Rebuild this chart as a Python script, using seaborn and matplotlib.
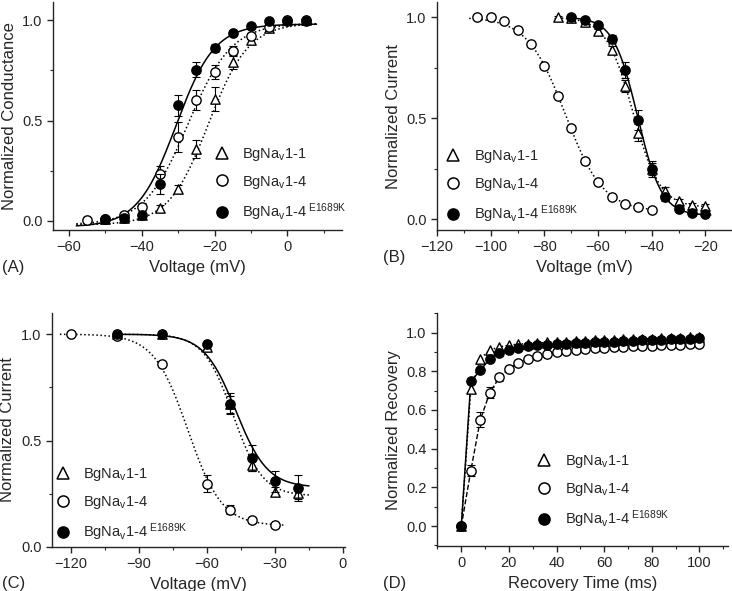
import numpy as np
import matplotlib
matplotlib.use("Agg")
import matplotlib.pyplot as plt
import seaborn as sns
from matplotlib.lines import Line2D
from matplotlib.ticker import MultipleLocator

# (A) activation
a_v_11 = [-50, -45, -40, -35, -30, -25, -20, -15, -10, -5, 0, 5]
a_g_11 = [0.01, 0.015, 0.03, 0.066, 0.16, 0.36, 0.605, 0.79, 0.90, 0.96, 1.0, 1.0]
a_e_11 = [0.01, 0.01, 0.01, 0.015, 0.02, 0.045, 0.06, 0.035, 0.02, 0.01, 0.01, 0.01]
a_v_14 = [-55, -50, -45, -40, -35, -30, -25, -20, -15, -10, -5, 0, 5]
a_g_14 = [0.007, 0.01, 0.028, 0.07, 0.233, 0.42, 0.60, 0.74, 0.845, 0.92, 0.967, 1.0, 1.0]
a_e_14 = [0.015, 0.01, 0.015, 0.02, 0.04, 0.075, 0.05, 0.035, 0.025, 0.015, 0.01, 0.01, 0.01]
a_v_ek = [-50, -45, -40, -35, -30, -25, -20, -15, -10, -5, 0, 5]
a_g_ek = [0.012, 0.017, 0.03, 0.186, 0.575, 0.754, 0.86, 0.934, 0.97, 0.993, 0.997, 0.997]
a_e_ek = [0.01, 0.01, 0.01, 0.05, 0.05, 0.035, 0.02, 0.015, 0.01, 0.01, 0.01, 0.01]
# Boltzmann fit parameters: v_half, slope, bottom, top
a_fit_11 = (-21.7, 5.5, -0.02, 0.985)
a_fit_14 = (-27.3, 6.0, -0.02, 0.985)
a_fit_ek = (-30.6, 5.3, -0.03, 0.98)

# (B) steady-state inactivation
b_v_11 = [-75, -70, -65, -60, -55, -50, -45, -40, -35, -30, -25, -20]
b_i_11 = [1.0, 0.995, 0.975, 0.93, 0.84, 0.66, 0.43, 0.25, 0.14, 0.09, 0.07, 0.065]
b_e_11 = [0.005, 0.005, 0.01, 0.01, 0.02, 0.03, 0.04, 0.03, 0.02, 0.01, 0.01, 0.01]
b_v_14 = [-105, -100, -95, -90, -85, -80, -75, -70, -65, -60, -55, -50, -45, -40]
b_i_14 = [1.0, 1.0, 0.98, 0.935, 0.868, 0.76, 0.61, 0.45, 0.29, 0.185, 0.113, 0.078, 0.06, 0.049]
b_e_14 = [0.005, 0.005, 0.01, 0.01, 0.01, 0.01, 0.01, 0.01, 0.01, 0.01, 0.01, 0.01, 0.01, 0.01]
b_v_ek = [-70, -65, -60, -55, -50, -45, -40, -35, -30, -25, -20]
b_i_ek = [1.0, 0.985, 0.96, 0.89, 0.74, 0.49, 0.25, 0.11, 0.05, 0.03, 0.025]
b_e_ek = [0.005, 0.01, 0.01, 0.02, 0.04, 0.05, 0.04, 0.02, 0.01, 0.01, 0.01]
b_fit_11 = (-47.0, 5.0, 0.06, 1.0)
b_fit_14 = (-72.2, 7.07, 0.04, 1.0)
b_fit_ek = (-45.3, 4.5, 0.02, 1.0)

# (C) slow inactivation
c_v_11 = [-100, -80, -60, -50, -40, -30, -20]
c_i_11 = [1.0, 1.0, 0.94, 0.67, 0.385, 0.26, 0.255]
c_e_11 = [0.01, 0.01, 0.01, 0.04, 0.03, 0.02, 0.03]
c_v_14 = [-120, -100, -80, -60, -50, -40, -30]
c_i_14 = [1.0, 0.99, 0.86, 0.297, 0.175, 0.128, 0.103]
c_e_14 = [0.005, 0.01, 0.01, 0.04, 0.02, 0.015, 0.01]
c_v_ek = [-100, -80, -60, -50, -40, -30, -20]
c_i_ek = [1.0, 1.0, 0.953, 0.673, 0.418, 0.308, 0.277]
c_e_ek = [0.01, 0.01, 0.01, 0.05, 0.06, 0.05, 0.06]
c_fit_11 = (-48.5, 6.5, 0.24, 1.0)
c_fit_14 = (-68.5, 7.5, 0.10, 1.0)
c_fit_ek = (-47.3, 7.0, 0.28, 1.0)

# (D) recovery from inactivation
d_t = [0, 4, 8, 12, 16, 20, 24, 28, 32, 36, 40, 44, 48, 52, 56, 60, 64, 68, 72, 76,
       80, 84, 88, 92, 96, 100]
d_r_11 = [0.0, 0.71, 0.865, 0.91, 0.925, 0.935, 0.94, 0.943, 0.946, 0.949, 0.951, 0.953,
          0.955, 0.957, 0.959, 0.961, 0.963, 0.964, 0.966, 0.967, 0.969, 0.97, 0.972,
          0.973, 0.975, 0.976]
d_r_14 = [0.0, 0.287, 0.55, 0.69, 0.768, 0.814, 0.843, 0.864, 0.88, 0.89, 0.898, 0.905,
          0.91, 0.914, 0.918, 0.921, 0.924, 0.926, 0.928, 0.93, 0.932, 0.934, 0.936,
          0.938, 0.94, 0.942]
d_e_14 = [0.01, 0.03, 0.04, 0.03, 0.02, 0.015, 0.01, 0.01, 0.01, 0.01, 0.01, 0.01, 0.01,
          0.01, 0.01, 0.01, 0.01, 0.01, 0.01, 0.01, 0.01, 0.01, 0.01, 0.01, 0.01, 0.01]
d_r_ek = [0.0, 0.747, 0.805, 0.865, 0.895, 0.912, 0.922, 0.928, 0.933, 0.937, 0.94, 0.943,
          0.945, 0.947, 0.949, 0.951, 0.953, 0.955, 0.957, 0.959, 0.961, 0.962, 0.964,
          0.966, 0.968, 0.97]

labels = [r"BgNa$_{\mathrm{v}}$1-1", r"BgNa$_{\mathrm{v}}$1-4",
          r"BgNa$_{\mathrm{v}}$1-4$^{\ \mathrm{E1689K}}$"]

sns.set_style("ticks")
plt.rcParams["font.family"] = ["Liberation Sans", "DejaVu Sans"]
plt.rcParams["mathtext.fontset"] = "custom"
plt.rcParams["mathtext.rm"] = "Liberation Sans"
plt.rcParams["mathtext.it"] = "Liberation Sans:italic"
plt.rcParams["mathtext.bf"] = "Liberation Sans:bold"

MS = 45  # marker area
styles = [
    dict(marker="^", color="white", edgecolor="black"),
    dict(marker="o", color="white", edgecolor="black"),
    dict(marker="o", color="black", edgecolor="black"),
]


def activation(v, p):
    vh, k, lo, hi = p
    return lo + (hi - lo) / (1 + np.exp((vh - v) / k))


def inactivation(v, p):
    vh, k, lo, hi = p
    return lo + (hi - lo) / (1 + np.exp((v - vh) / k))


def points(ax, x, y, err, st, z):
    if err is not None:
        ax.errorbar(x, y, yerr=err, fmt="none", ecolor="black", elinewidth=0.8,
                    capsize=3, capthick=0.8, zorder=z)
    sns.scatterplot(x=x, y=y, s=MS, linewidth=1.0, ax=ax, zorder=z + 0.5,
                    legend=False, **st)


def fit_line(ax, func, p, x0, x1, ls):
    xs = np.linspace(x0, x1, 200)
    sns.lineplot(x=xs, y=func(xs, p), color="black", linestyle=ls, linewidth=1.1,
                 ax=ax, zorder=2)


def style_axis(ax):
    sns.despine(ax=ax)
    for s in ["left", "bottom"]:
        ax.spines[s].set_linewidth(1.0)
    ax.tick_params(which="major", direction="out", length=4, width=1.0, labelsize=10.5)
    ax.tick_params(which="minor", direction="out", length=2.5, width=0.8)


def add_legend(ax, anchor):
    handles = [Line2D([], [], linestyle="none", markersize=8, markeredgewidth=1.1,
                      marker=st["marker"], markerfacecolor=st["color"],
                      markeredgecolor="black") for st in styles]
    ax.legend(handles, labels, loc="upper left", bbox_to_anchor=anchor, frameon=False,
              fontsize=10.5, handlelength=1.0, handletextpad=0.9, labelspacing=0.75,
              borderpad=0, borderaxespad=0)


fig = plt.figure(figsize=(7.32, 5.91), dpi=100)
axA = fig.add_axes([0.0724, 0.6108, 0.3948, 0.3858])
axB = fig.add_axes([0.597, 0.6108, 0.4016, 0.3858])
axC = fig.add_axes([0.071, 0.0745, 0.4003, 0.396])
axD = fig.add_axes([0.597, 0.0761, 0.3975, 0.394])

# A
fit_line(axA, activation, a_fit_11, -58, 8, ":")
fit_line(axA, activation, a_fit_14, -58, 8, ":")
fit_line(axA, activation, a_fit_ek, -58, 8, "-")
points(axA, a_v_11, a_g_11, a_e_11, styles[0], 3)
points(axA, a_v_14, a_g_14, a_e_14, styles[1], 4)
points(axA, a_v_ek, a_g_ek, a_e_ek, styles[2], 5)
axA.set_xlim(-64.4, 15)
axA.set_ylim(-0.045, 1.09)
axA.xaxis.set_major_locator(MultipleLocator(20))
axA.xaxis.set_minor_locator(MultipleLocator(10))
axA.yaxis.set_major_locator(MultipleLocator(0.5))
axA.yaxis.set_minor_locator(MultipleLocator(0.25))
axA.set_xlabel("Voltage (mV)", fontsize=12)
axA.set_ylabel("Normalized Conductance", fontsize=12)
add_legend(axA, (0.558, 0.37))

# B
fit_line(axB, inactivation, b_fit_14, -108, -40, ":")
fit_line(axB, inactivation, b_fit_11, -75, -19, ":")
fit_line(axB, inactivation, b_fit_ek, -70, -18, "-")
points(axB, b_v_11, b_i_11, b_e_11, styles[0], 3)
points(axB, b_v_14, b_i_14, b_e_14, styles[1], 4)
points(axB, b_v_ek, b_i_ek, b_e_ek, styles[2], 5)
axB.set_xlim(-120, -10.5)
axB.set_ylim(-0.052, 1.075)
axB.xaxis.set_major_locator(MultipleLocator(20))
axB.xaxis.set_minor_locator(MultipleLocator(10))
axB.yaxis.set_major_locator(MultipleLocator(0.5))
axB.yaxis.set_minor_locator(MultipleLocator(0.25))
axB.set_xlabel("Voltage (mV)", fontsize=12)
axB.set_ylabel("Normalized Current", fontsize=12)
add_legend(axB, (0.03, 0.36))

# C
fit_line(axC, inactivation, c_fit_14, -125, -26, ":")
fit_line(axC, inactivation, c_fit_11, -100, -15, ":")
fit_line(axC, inactivation, c_fit_ek, -100, -15, "-")
points(axC, c_v_11, c_i_11, c_e_11, styles[0], 3)
points(axC, c_v_14, c_i_14, c_e_14, styles[1], 4)
points(axC, c_v_ek, c_i_ek, c_e_ek, styles[2], 5)
axC.set_xlim(-128.5, 0.9)
axC.set_ylim(0, 1.1)
axC.xaxis.set_major_locator(MultipleLocator(30))
axC.xaxis.set_minor_locator(MultipleLocator(15))
axC.yaxis.set_major_locator(MultipleLocator(0.5))
axC.yaxis.set_minor_locator(MultipleLocator(0.25))
axC.set_xlabel("Voltage (mV)", fontsize=12)
axC.set_ylabel("Normalized Current", fontsize=12)
add_legend(axC, (0.013, 0.347))

# D
sns.lineplot(x=d_t, y=d_r_11, color="black", linestyle=":", linewidth=1.1, ax=axD, zorder=2)
sns.lineplot(x=d_t, y=d_r_14, color="black", linestyle="--", linewidth=1.0, ax=axD, zorder=2)
sns.lineplot(x=d_t, y=d_r_ek, color="black", linestyle="-", linewidth=1.1, ax=axD, zorder=2)
points(axD, d_t, d_r_11, None, styles[0], 3)
points(axD, d_t, d_r_14, d_e_14, styles[1], 4)
points(axD, d_t, d_r_ek, None, styles[2], 5)
axD.set_xlim(-10.2, 112)
axD.set_ylim(-0.103, 1.1)
axD.xaxis.set_major_locator(MultipleLocator(20))
axD.xaxis.set_minor_locator(MultipleLocator(10))
axD.yaxis.set_major_locator(MultipleLocator(0.2))
axD.yaxis.set_minor_locator(MultipleLocator(0.1))
axD.set_xlabel("Recovery Time (ms)", fontsize=12)
axD.set_ylabel("Normalized Recovery", fontsize=12)
add_legend(axD, (0.343, 0.40))

for ax in (axA, axB, axC, axD):
    style_axis(ax)

fig.text(0.003, 0.548, "(A)", fontsize=12, va="center", ha="left")
fig.text(0.523, 0.565, "(B)", fontsize=12, va="center", ha="left")
fig.text(0.003, 0.013, "(C)", fontsize=12, va="center", ha="left")
fig.text(0.523, 0.013, "(D)", fontsize=12, va="center", ha="left")

fig.savefig("out.png", dpi=100)
